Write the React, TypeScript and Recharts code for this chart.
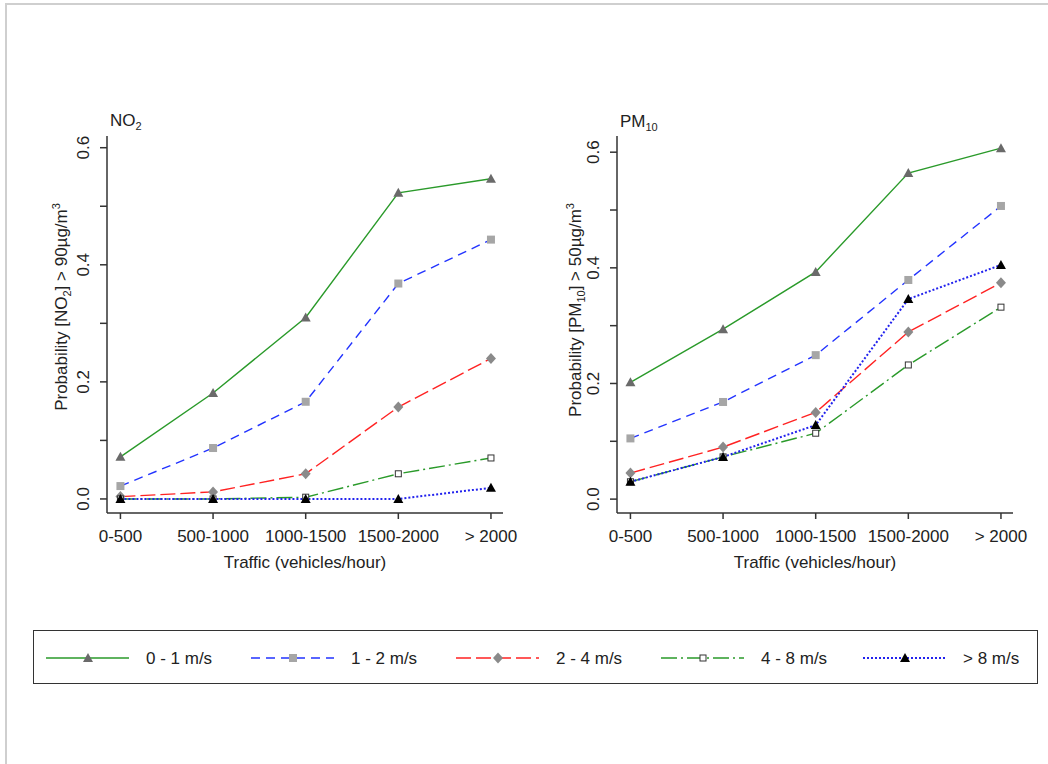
import React from 'react';
import { LineChart, Line, XAxis, YAxis } from 'recharts';

const categories = ['0-500', '500-1000', '1000-1500', '1500-2000', '> 2000'];
const seriesNames = ['0 - 1 m/s', '1 - 2 m/s', '2 - 4 m/s', '4 - 8 m/s', '> 8 m/s'];
const yTicks = [0, 0.1, 0.2, 0.3, 0.4, 0.5, 0.6];

// NO2 > 90 µg/m3
const no2Wind01 = [0.072, 0.181, 0.31, 0.523, 0.547];
const no2Wind12 = [0.022, 0.087, 0.166, 0.368, 0.443];
const no2Wind24 = [0.004, 0.012, 0.043, 0.157, 0.24];
const no2Wind48 = [0.0, 0.0, 0.003, 0.043, 0.07];
const no2Wind8 = [0.0, 0.0, 0.0, 0.0, 0.019];

// PM10 > 50 µg/m3
const pmWind01 = [0.202, 0.294, 0.393, 0.564, 0.607];
const pmWind12 = [0.105, 0.168, 0.249, 0.379, 0.507];
const pmWind24 = [0.045, 0.09, 0.15, 0.289, 0.374];
const pmWind48 = [0.03, 0.073, 0.114, 0.232, 0.332];
const pmWind8 = [0.03, 0.073, 0.128, 0.346, 0.405];

const FONT = '"Liberation Sans", Arial, sans-serif';
const TXT = '#222';
const AXIS = '#333';

const styles = [
  { key: 's1', color: '#2a9a2a', dash: undefined, width: 1.4, marker: 'tri' },
  { key: 's2', color: '#2233ff', dash: '9 6', width: 1.4, marker: 'square' },
  { key: 's3', color: '#ff2222', dash: '15 5', width: 1.4, marker: 'diamond' },
  { key: 's4', color: '#2a9a2a', dash: '16 4 2 4', width: 1.4, marker: 'open' },
  { key: 's5', color: '#2222ee', dash: '2 2', width: 2, marker: 'black' },
];

const buildRows = (cols: number[][]) =>
  categories.map((c, i) => ({
    x: i,
    s1: cols[0][i],
    s2: cols[1][i],
    s3: cols[2][i],
    s4: cols[3][i],
    s5: cols[4][i],
  }));

const no2Rows = buildRows([no2Wind01, no2Wind12, no2Wind24, no2Wind48, no2Wind8]);
const pmRows = buildRows([pmWind01, pmWind12, pmWind24, pmWind48, pmWind8]);

const Marker = ({ cx, cy, kind }: { cx: number; cy: number; kind: string }) => {
  if (cx == null || cy == null) return null;
  if (kind === 'tri' || kind === 'black') {
    return (
      <polygon
        points={`${cx},${cy - 5} ${cx - 5},${cy + 4} ${cx + 5},${cy + 4}`}
        fill={kind === 'tri' ? '#6a6a6a' : '#000'}
      />
    );
  }
  if (kind === 'square') {
    return <rect x={cx - 4} y={cy - 4} width={8} height={8} fill="#a6a6a6" />;
  }
  if (kind === 'diamond') {
    return (
      <polygon
        points={`${cx},${cy - 5.5} ${cx + 5},${cy} ${cx},${cy + 5.5} ${cx - 5},${cy}`}
        fill="#8a8a8a"
      />
    );
  }
  return <rect x={cx - 3} y={cy - 3} width={6} height={6} fill="#fff" stroke="#333" strokeWidth={1} />;
};

const YTick = (props: any) => {
  const { x, y, payload } = props;
  const v = payload.value as number;
  if (Math.round(v * 10) % 2 !== 0) return <g />;
  return (
    <text
      x={x}
      y={y}
      transform={`rotate(-90, ${x}, ${y})`}
      textAnchor="middle"
      fontSize={17}
      fontFamily={FONT}
      fill={TXT}
    >
      {v.toFixed(1)}
    </text>
  );
};

const Panel = ({ rows, left, yMax }: { rows: any[]; left: number; yMax: number }) => (
  <div style={{ position: 'absolute', left, top: 100 }}>
    <LineChart width={480} height={480} data={rows} margin={{ top: 36, right: 17, bottom: 7, left: 0 }}>
      <XAxis
        dataKey="x"
        type="number"
        domain={[-0.145, 4.13]}
        allowDataOverflow
        ticks={[0, 1, 2, 3, 4]}
        tickFormatter={(v: number) => categories[v]}
        height={60}
        tickSize={6}
        tickMargin={11}
        interval={0}
        stroke={AXIS}
        strokeWidth={1.5}
        tick={{ fontSize: 17, fontFamily: FONT, fill: TXT }}
      />
      <YAxis
        type="number"
        domain={[-0.024, yMax]}
        allowDataOverflow
        ticks={yTicks}
        width={67}
        tickSize={7}
        tickMargin={11}
        interval={0}
        stroke={AXIS}
        strokeWidth={1.5}
        tick={<YTick />}
      />
      {styles.map((s) => (
        <Line
          key={s.key}
          type="linear"
          dataKey={s.key}
          stroke={s.color}
          strokeWidth={s.width}
          strokeDasharray={s.dash}
          isAnimationActive={false}
          dot={(p: any) => <Marker key={`${s.key}-${p.index}`} cx={p.cx} cy={p.cy} kind={s.marker} />}
          activeDot={false}
        />
      ))}
    </LineChart>
  </div>
);

const legendX = [12, 217, 422, 627, 829];

const Legend = () => (
  <div
    style={{
      position: 'absolute',
      left: 33,
      top: 630,
      width: 1003,
      height: 52,
      border: '1px solid #333',
    }}
  >
    <svg width={1003} height={52}>
      {styles.map((s, i) => {
        const x0 = legendX[i];
        return (
          <g key={s.key}>
            <line
              x1={x0}
              x2={x0 + 83}
              y1={27}
              y2={27}
              stroke={s.color}
              strokeWidth={s.width}
              strokeDasharray={s.dash}
            />
            <Marker cx={x0 + 42} cy={27} kind={s.marker} />
            <text x={x0 + 100} y={33} fontSize={17} fontFamily={FONT} fill={TXT}>
              {seriesNames[i]}
            </text>
          </g>
        );
      })}
    </svg>
  </div>
);

const Labels = () => (
  <svg
    width={1048}
    height={764}
    style={{ position: 'absolute', left: 0, top: 0, pointerEvents: 'none' }}
    fontFamily={FONT}
    fill={TXT}
  >
    <text x={110} y={126} fontSize={17}>
      NO<tspan fontSize={11} dy={4}>2</tspan>
    </text>
    <text x={620} y={127} fontSize={17}>
      PM<tspan fontSize={11} dy={4}>10</tspan>
    </text>
    <text x={67} y={307} fontSize={17} textAnchor="middle" transform="rotate(-90, 67, 307)">
      Probability [NO<tspan fontSize={11} dy={4}>2</tspan>
      <tspan dy={-4}>] &gt; 90µg/m</tspan>
      <tspan fontSize={11} dy={-7}>3</tspan>
    </text>
    <text x={581} y={310} fontSize={17} textAnchor="middle" transform="rotate(-90, 581, 310)">
      Probability [PM<tspan fontSize={11} dy={4}>10</tspan>
      <tspan dy={-4}>] &gt; 50µg/m</tspan>
      <tspan fontSize={11} dy={-7}>3</tspan>
    </text>
    <text x={305} y={568} fontSize={17} textAnchor="middle">
      Traffic (vehicles/hour)
    </text>
    <text x={815} y={568} fontSize={17} textAnchor="middle">
      Traffic (vehicles/hour)
    </text>
  </svg>
);

export default function App() {
  return (
    <div style={{ position: 'absolute', left: 0, top: 0, width: 1048, height: 764, background: '#fff' }}>
      <div
        style={{
          position: 'absolute',
          left: 5,
          top: 3,
          width: 1043,
          height: 761,
          borderTop: '2px solid #cfcfcf',
          borderLeft: '2px solid #cfcfcf',
        }}
      />
      <Panel rows={no2Rows} left={40} yMax={0.62} />
      <Panel rows={pmRows} left={550} yMax={0.628} />
      <Labels />
      <Legend />
    </div>
  );
}
